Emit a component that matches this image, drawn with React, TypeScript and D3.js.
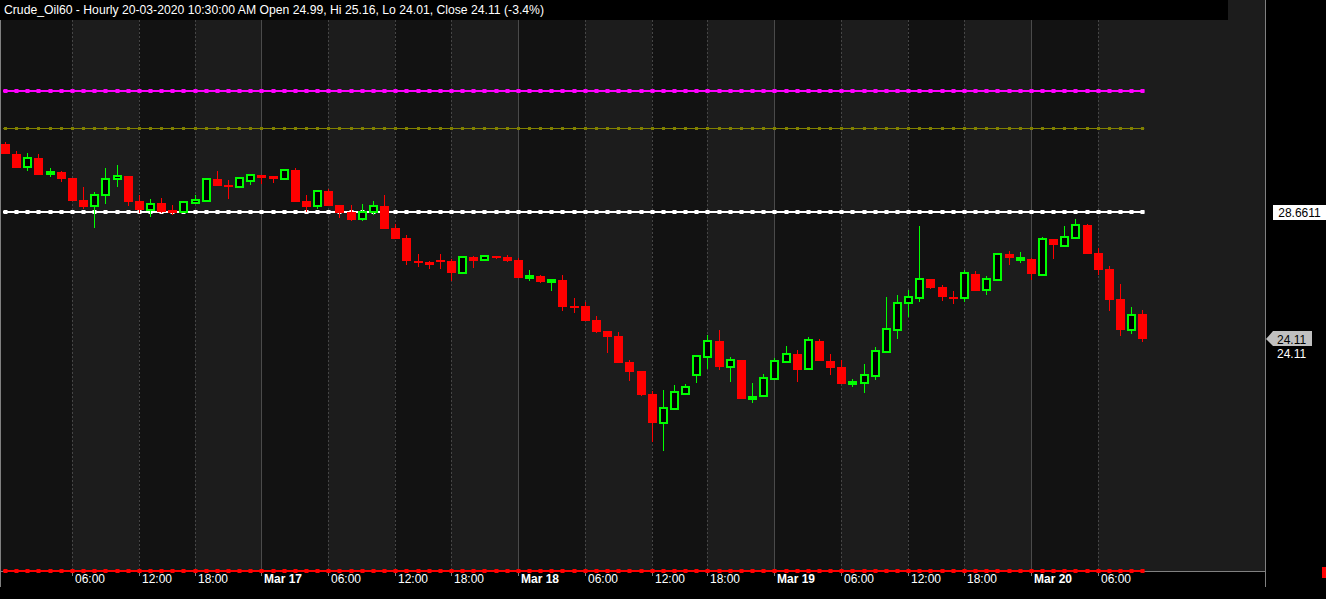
import React from "react";
import * as d3 from "d3";

const W = 1326;
const H = 599;

// OHLC values, hourly bars from Mar 16 00:00 to Mar 20 10:00
const opens = [31.10,30.74,30.28,30.60,30.01,30.09,29.88,29.09,28.87,29.26,29.83,29.95,29.06,28.74,28.98,28.72,28.67,28.99,29.07,29.84,29.64,29.57,29.78,29.99,29.95,29.85,30.17,29.06,28.87,29.41,28.91,28.66,28.40,28.65,28.88,28.10,27.73,26.92,26.87,26.95,26.91,26.49,27.05,26.93,27.08,27.05,26.94,26.32,26.37,26.16,26.22,25.30,25.29,24.79,24.40,24.22,23.29,22.96,22.14,21.11,21.61,22.15,22.83,23.48,24.04,23.12,23.36,21.97,22.08,22.69,23.30,23.57,23.02,24.04,23.32,23.11,22.49,22.54,22.79,23.65,24.44,25.41,25.59,26.25,25.97,25.62,25.59,26.44,25.86,26.24,27.16,26.94,26.97,26.41,27.69,27.45,27.74,28.20,27.19,26.62,25.54,24.44,24.99];
const highs = [31.17,30.85,30.78,30.74,30.24,30.13,29.88,29.56,29.38,30.24,30.35,29.95,29.28,29.13,29.16,28.91,29.06,29.27,29.87,30.13,29.81,29.87,29.98,29.99,29.95,30.16,30.24,29.27,29.40,29.50,28.91,28.91,28.95,29.07,29.27,28.23,27.84,27.16,26.92,27.16,26.98,27.04,27.10,27.07,27.08,27.12,27.00,26.58,26.41,26.22,26.40,25.58,25.44,24.93,24.40,24.36,23.36,22.96,22.25,22.28,22.46,22.50,23.54,24.25,24.43,23.46,23.36,22.53,22.86,23.43,23.86,23.72,24.18,24.11,23.57,23.36,22.68,23.21,23.81,25.62,25.69,25.87,28.16,26.25,26.05,25.83,26.57,26.55,26.38,27.16,27.26,27.23,27.02,27.77,27.69,28.16,28.41,28.23,27.36,26.73,26.08,25.26,25.16];
const lows = [30.75,30.25,30.14,30.00,29.93,29.75,29.07,28.78,28.10,28.96,29.57,28.89,28.61,28.47,28.64,28.54,28.67,28.98,29.01,29.60,29.13,29.53,29.64,29.68,29.71,29.85,29.03,28.67,28.78,28.89,28.46,28.35,28.35,28.54,28.05,27.69,26.76,26.70,26.62,26.62,26.20,26.45,26.67,26.93,26.97,26.88,26.31,26.20,26.12,25.84,25.11,25.05,24.76,24.34,23.62,23.25,22.62,22.07,20.42,20.11,21.58,22.10,22.54,23.05,23.01,22.58,21.97,21.82,22.04,22.69,23.30,22.58,23.02,23.32,22.82,22.51,22.40,22.19,22.65,23.65,24.12,24.91,25.45,25.90,25.48,25.36,25.45,25.83,25.69,26.19,26.76,26.84,26.22,26.41,26.99,27.41,27.69,27.17,26.40,25.11,24.23,24.30,24.01];
const closes = [30.75,30.25,30.59,30.00,30.08,29.84,29.07,28.85,29.26,29.83,29.94,29.03,28.74,28.94,28.67,28.64,29.02,29.09,29.83,29.60,29.57,29.87,29.98,29.89,29.85,30.16,29.03,28.84,29.40,28.89,28.63,28.39,28.66,28.87,28.05,27.69,26.91,26.84,26.76,26.87,26.49,27.04,26.91,27.07,27.01,26.91,26.31,26.37,26.16,26.22,25.26,25.26,24.76,24.36,24.18,23.25,22.93,22.10,21.10,21.63,22.20,22.38,23.49,24.03,23.12,23.35,21.97,22.03,22.70,23.31,23.56,23.01,24.06,23.32,23.08,22.51,22.56,22.81,23.67,24.46,25.39,25.60,26.25,25.95,25.62,25.54,26.46,25.83,26.25,27.16,27.02,27.00,26.45,27.68,27.48,27.75,28.18,27.17,26.59,25.52,24.44,24.96,24.11];

// x-axis ticks (bar index) and labels
const tickIndex = [6, 12, 17, 23, 29, 35, 40, 46, 52, 58, 63, 69, 75, 81, 86, 92, 98];
const tickLabels = ["06:00", "12:00", "18:00", "Mar 17", "06:00", "12:00", "18:00", "Mar 18", "06:00", "12:00", "18:00", "Mar 19", "06:00", "12:00", "18:00", "Mar 20", "06:00"];

// horizontal levels
const levelValues = [33.0, 31.67, 28.6611, 15.8];
const levelColors = ["#ff00ff", "#808000", "#ffffff", "#ff0000"];

const lastClose = 24.11;
const labeledLevel = "28.6611";
const title = "Crude_Oil60 - Hourly 20-03-2020 10:30:00 AM Open 24.99, Hi 25.16, Lo 24.01, Close 24.11 (-3.4%)";

const PLOT_RIGHT = 1265;
const PLOT_BOTTOM = 571;
const FONT = "'Liberation Sans', Arial, sans-serif";

export default function App() {
  const n = opens.length;
  const x = d3.scaleLinear().domain([0, n - 1]).range([5, 5 + 11.15 * (n - 1)]);
  const y = d3.scaleLinear().domain([15.796, 36.258]).range([PLOT_BOTTOM, 0]);

  // bands between gridlines
  const bounds = [0, ...tickIndex.map((i) => Math.round(x(i))), PLOT_RIGHT];
  const bands = [];
  for (let k = 0; k < bounds.length - 1; k++) {
    bands.push({ x0: bounds[k], x1: bounds[k + 1], light: k % 2 === 1 });
  }

  const candles = d3.range(n).map((i) => {
    const o = opens[i], h = highs[i], l = lows[i], c = closes[i];
    const up = c >= o;
    const cx = Math.round(x(i));
    const top = Math.round(y(Math.max(o, c)));
    const bot = Math.round(y(Math.min(o, c)));
    return { i, up, cx, top, bot, yh: Math.round(y(h)), yl: Math.round(y(l)) };
  });

  const sq = [4, 3, 4, 4];
  const lw = [2, 1, 2, 2];

  return (
    <svg
      width={W}
      height={H}
      style={{ position: "fixed", left: 0, top: 0, background: "#000", display: "block" }}
      fontFamily={FONT}
    >
      <rect x={0} y={0} width={W} height={H} fill="#000" />
      {bands.map((b, k) => (
        <rect key={"b" + k} x={b.x0} y={0} width={b.x1 - b.x0} height={PLOT_BOTTOM} fill={b.light ? "#1c1c1c" : "#121212"} />
      ))}
      {tickIndex.map((ti, k) => {
        const day = tickLabels[k].startsWith("Mar");
        const gx = Math.round(x(ti)) + 0.5;
        return (
          <g key={"g" + k}>
            <line
              x1={gx} x2={gx} y1={0} y2={PLOT_BOTTOM}
              stroke={day ? "#4a4a4a" : "#464646"}
              strokeWidth={1}
              strokeDasharray={day ? undefined : "2,2"}
            />
            <line x1={gx} x2={gx} y1={PLOT_BOTTOM} y2={PLOT_BOTTOM + 5} stroke="#808080" strokeWidth={1} />
            <text
              x={gx + 2.5}
              y={583}
              fill="#ffffff"
              fontSize={12}
              fontWeight={day ? "bold" : "normal"}
            >
              {tickLabels[k]}
            </text>
          </g>
        );
      })}
      {/* frame */}
      <line x1={0} x2={PLOT_RIGHT} y1={PLOT_BOTTOM + 0.5} y2={PLOT_BOTTOM + 0.5} stroke="#808080" />
      <line x1={PLOT_RIGHT + 0.5} x2={PLOT_RIGHT + 0.5} y1={0} y2={587} stroke="#808080" />
      <line x1={0.5} x2={0.5} y1={0} y2={587} stroke="#808080" />

      {/* level lines */}
      {levelValues.map((v, k) => {
        const ly = Math.round(y(v));
        return (
          <g key={"l" + k}>
            <line
              x1={x(0) - 2} x2={x(n - 1) + 2}
              y1={ly + (lw[k] === 1 ? 0.5 : 0)} y2={ly + (lw[k] === 1 ? 0.5 : 0)}
              stroke={levelColors[k]} strokeWidth={lw[k]}
            />
            {d3.range(n).map((i) => (
              <rect
                key={i}
                x={Math.round(x(i)) + 0.5 - sq[k] / 2}
                y={ly - sq[k] / 2 + (lw[k] === 1 ? 0.5 : 0)}
                width={sq[k]} height={sq[k]}
                fill={levelColors[k]}
              />
            ))}
          </g>
        );
      })}

      {/* candles */}
      {candles.map((d) => {
        const col = d.up ? "#00ff00" : "#ff0000";
        const wx = d.cx + 0.5;
        if (d.up) {
          const h = Math.max(2, d.bot - d.top);
          return (
            <g key={"c" + d.i}>
              <line x1={wx} x2={wx} y1={d.yh} y2={d.top} stroke={col} />
              <line x1={wx} x2={wx} y1={d.top + h} y2={d.yl} stroke={col} />
              <rect x={d.cx - 3} y={d.top} width={7} height={h} fill="#000" stroke={col} strokeWidth={2} />
            </g>
          );
        }
        const h = Math.max(2, d.bot - d.top);
        return (
          <g key={"c" + d.i}>
            <line x1={wx} x2={wx} y1={d.yh} y2={d.yl} stroke={col} />
            <rect x={d.cx - 4} y={d.top} width={9} height={h} fill={col} />
          </g>
        );
      })}

      {/* title bar */}
      <rect x={0} y={0} width={1228} height={20} fill="#000" />
      <text x={4} y={14} fill="#ffffff" fontSize={12} textLength={540} lengthAdjust="spacingAndGlyphs">{title}</text>

      {/* right axis labels */}
      <rect x={1273} y={205} width={53} height={15} fill="#ffffff" />
      <text x={1299.5} y={217} fill="#000" fontSize={12} textAnchor="middle">{labeledLevel}</text>

      <path
        d={`M1266,${Math.round(y(lastClose))} L1273,${Math.round(y(lastClose)) - 8} L1312,${Math.round(y(lastClose)) - 8} L1312,${Math.round(y(lastClose)) + 7} L1273,${Math.round(y(lastClose)) + 7} Z`}
        fill="#c0c0c0"
      />
      <text x={1277} y={Math.round(y(lastClose)) + 5} fill="#000" fontSize={12}>{lastClose.toFixed(2)}</text>
      <text x={1277} y={Math.round(y(lastClose)) + 19} fill="#ffffff" fontSize={12}>{lastClose.toFixed(2)}</text>

      <rect x={1322} y={567} width={4} height={11} fill="#ff0000" />
    </svg>
  );
}
